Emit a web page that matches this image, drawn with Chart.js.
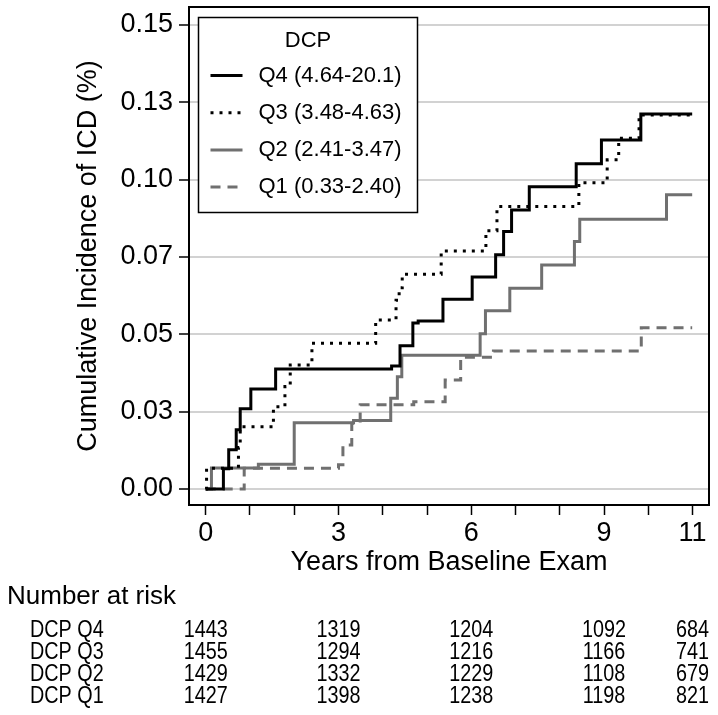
<!DOCTYPE html>
<html><head><meta charset="utf-8">
<script src="https://cdn.jsdelivr.net/npm/chart.js@4.4.0/dist/chart.umd.min.js"></script>
<style>html,body{margin:0;padding:0;background:#fff;}canvas{display:block}</style>
</head><body>
<canvas id="c" width="718" height="715"></canvas>
<script>
// ---- data (cumulative incidence) ----
const seriesLabels = ['Q4 (4.64-20.1)', 'Q3 (3.48-4.63)', 'Q2 (2.41-3.47)', 'Q1 (0.33-2.40)'];
const legendTitle = 'DCP';

const q4Years  = [0, 0.40, 0.52, 0.69, 0.78, 1.02, 1.58, 4.20, 4.39, 4.68, 4.80, 5.36, 6.02, 6.55, 6.73, 6.91, 7.31, 8.37, 8.94, 9.83, 10.99];
const q4Values = [0, 0.0065, 0.0127, 0.0191, 0.0259, 0.0323, 0.0388, 0.0397, 0.0463, 0.0536, 0.0543, 0.0613, 0.0685, 0.0757, 0.0832, 0.0902, 0.0977, 0.1051, 0.1128, 0.1212, 0.1212];

const q3Years  = [0, 0.02, 0.74, 0.78, 1.53, 1.79, 1.91, 2.40, 3.84, 4.30, 4.37, 4.44, 5.32, 6.33, 6.58, 8.43, 9.07, 9.33, 9.79, 10.99];
const q3Values = [0, 0.0067, 0.0134, 0.0201, 0.0266, 0.0331, 0.0401, 0.0471, 0.0546, 0.0610, 0.0650, 0.0694, 0.0769, 0.0835, 0.0913, 0.0990, 0.1064, 0.1134, 0.1209, 0.1209];

const q2Years  = [0, 0.13, 1.19, 2.00, 3.34, 4.18, 4.33, 4.43, 6.20, 6.32, 6.87, 7.59, 8.33, 8.45, 10.41, 10.99];
const q2Values = [0, 0.0068, 0.0080, 0.0214, 0.0221, 0.0293, 0.0363, 0.0432, 0.0502, 0.0576, 0.0649, 0.0724, 0.0800, 0.0872, 0.0951, 0.0951];

const q1Years  = [0, 0.87, 3.00, 3.10, 3.30, 3.49, 4.70, 5.41, 5.76, 6.50, 9.84, 10.99];
const q1Values = [0, 0.0067, 0.0078, 0.0142, 0.0212, 0.0272, 0.0282, 0.0352, 0.0426, 0.0446, 0.0521, 0.0521];

const yTickValues = [0, 0.025, 0.05, 0.075, 0.1, 0.125, 0.15];
const yTickLabels = ['0.00', '0.03', '0.05', '0.07', '0.10', '0.13', '0.15'];
const xTickValues = [0, 1, 2, 3, 4, 5, 6, 7, 8, 9, 10, 11];
const xTickLabels = ['0', '', '', '3', '', '', '6', '', '', '9', '', '11'];

const riskTitle = 'Number at risk';
const riskYears = [0, 3, 6, 9, 11];
const riskRowLabels = ['DCP Q4', 'DCP Q3', 'DCP Q2', 'DCP Q1'];
const riskQ4 = [1443, 1319, 1204, 1092, 684];
const riskQ3 = [1455, 1294, 1216, 1166, 741];
const riskQ2 = [1429, 1332, 1229, 1108, 679];
const riskQ1 = [1427, 1398, 1238, 1198, 821];

// ---- build ----
const zip = (xs, ys) => xs.map((x, i) => ({x: x, y: ys[i]}));
const GRAY = '#707070';
const datasets = [
  {label: seriesLabels[0], data: zip(q4Years, q4Values), borderColor: '#000', borderWidth: 3, borderDash: []},
  {label: seriesLabels[1], data: zip(q3Years, q3Values), borderColor: '#000', borderWidth: 3, borderDash: [3, 6]},
  {label: seriesLabels[2], data: zip(q2Years, q2Values), borderColor: GRAY, borderWidth: 3, borderDash: []},
  {label: seriesLabels[3], data: zip(q1Years, q1Values), borderColor: GRAY, borderWidth: 3, borderDash: [10, 7]}
].map(d => Object.assign(d, {stepped: 'before', pointRadius: 0, fill: false, tension: 0}));
const riskRows = [riskQ4, riskQ3, riskQ2, riskQ1];

const FONT = "'Liberation Sans', Arial, sans-serif";

function narrowText(ctx, text, x, y, sx) {
  ctx.save();
  ctx.translate(x, y);
  ctx.scale(sx, 1);
  ctx.fillText(text, 0, 0);
  ctx.restore();
}

const extras = {
  id: 'extras',
  afterDraw(chart) {
    const ctx = chart.ctx, ca = chart.chartArea;
    ctx.save();
    // plot frame
    ctx.strokeStyle = '#000'; ctx.lineWidth = 2; ctx.setLineDash([]);
    ctx.strokeRect(ca.left, ca.top, ca.right - ca.left, ca.bottom - ca.top);

    // legend box
    const lx = ca.left + 9.5, ly = ca.top + 10.5, lw = 219, lh = 195;
    ctx.fillStyle = '#fff';
    ctx.fillRect(lx, ly, lw, lh);
    ctx.lineWidth = 1.5; ctx.strokeStyle = '#000';
    ctx.strokeRect(lx, ly, lw, lh);
    ctx.fillStyle = '#000';
    ctx.font = '22px ' + FONT;
    ctx.textAlign = 'center'; ctx.textBaseline = 'middle';
    ctx.fillText(legendTitle, lx + lw / 2, ly + 23);
    chart.data.datasets.forEach((ds, i) => {
      const cy = ly + 58 + i * 37.2;
      ctx.save();
      ctx.strokeStyle = ds.borderColor; ctx.lineWidth = ds.borderWidth;
      ctx.setLineDash(ds.borderDash || []);
      ctx.beginPath(); ctx.moveTo(lx + 12, cy); ctx.lineTo(lx + 44, cy); ctx.stroke();
      ctx.restore();
      ctx.textAlign = 'left'; ctx.fillStyle = '#000';
      ctx.fillText(ds.label, lx + 60, cy);
    });

    // number at risk table
    const xs = chart.scales.x;
    ctx.textBaseline = 'alphabetic';
    ctx.textAlign = 'left';
    ctx.font = '26px ' + FONT;
    ctx.fillText(riskTitle, 7, 604);
    ctx.font = '23px ' + FONT;
    riskRowLabels.forEach((lab, r) => {
      const by = 637 + r * 22;
      ctx.textAlign = 'left';
      narrowText(ctx, lab, 30, by, 0.86);
      ctx.textAlign = 'center';
      riskRows[r].forEach((n, j) => narrowText(ctx, String(n), xs.getPixelForValue(riskYears[j]), by, 0.86));
    });
    ctx.restore();
  }
};

new Chart(document.getElementById('c'), {
  type: 'line',
  data: {datasets: datasets},
  plugins: [extras],
  options: {
    responsive: false, animation: false, devicePixelRatio: 1,
    layout: {padding: {left: 0, top: 7, right: 9, bottom: 125}},
    plugins: {legend: {display: false}, tooltip: {enabled: false}},
    scales: {
      x: {
        type: 'linear', min: -0.377, max: 11.37,
        afterBuildTicks: s => { s.ticks = xTickValues.map(v => ({value: v})); },
        afterFit: s => { s.height = 85; s.paddingLeft = 0; s.paddingRight = 0; },
        grid: {drawOnChartArea: false, drawTicks: true, tickLength: 10, tickColor: '#000', tickWidth: 1.5},
        border: {display: false},
        ticks: {autoSkip: false, maxRotation: 0, padding: 2, color: '#000', font: {family: FONT, size: 27},
                callback: (v, i) => xTickLabels[i]},
        title: {display: true, text: 'Years from Baseline Exam', color: '#000', font: {family: FONT, size: 27},
                padding: {top: 0, bottom: 10.8}}
      },
      y: {
        type: 'linear', min: -0.0052, max: 0.1558,
        afterBuildTicks: s => { s.ticks = yTickValues.map(v => ({value: v})); },
        afterFit: s => { s.width = 189; s.paddingTop = 0; s.paddingBottom = 0; },
        grid: {color: '#d2d2d2', lineWidth: 2, drawTicks: true, tickLength: 10, tickColor: '#000', tickWidth: 1.5},
        border: {display: false},
        ticks: {padding: 6, color: '#000', font: {family: FONT, size: 27},
                callback: (v, i) => yTickLabels[i]},
        title: {display: true, text: 'Cumulative Incidence of ICD (%)', color: '#000', font: {family: FONT, size: 27},
                padding: {top: 72.8, bottom: 0}}
      }
    }
  }
});
</script>
</body></html>
